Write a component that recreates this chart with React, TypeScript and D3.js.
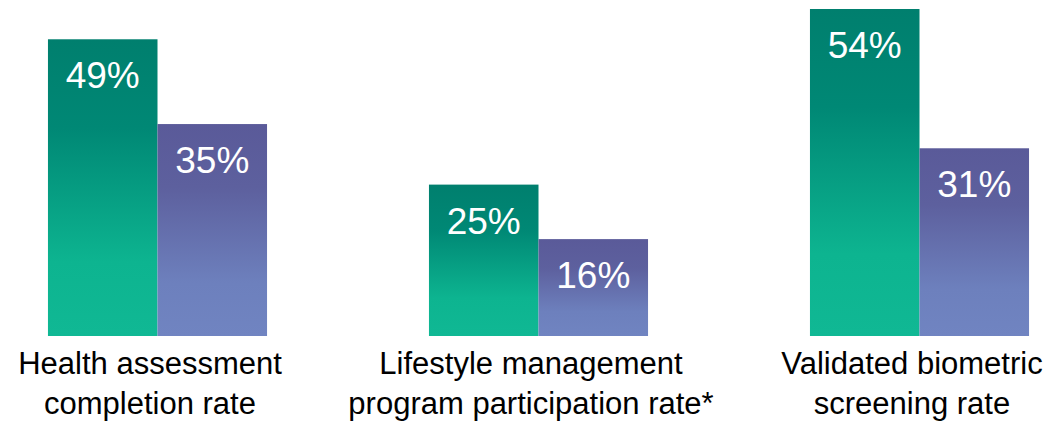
import React from "react";
import * as d3 from "d3";

const categories = ["Health assessment|completion rate", "Lifestyle management|program participation rate*", "Validated biometric|screening rate"];
const seriesA = [49, 25, 54];
const seriesB = [35, 16, 31];

const W = 1064;
const H = 421;

export default function App() {
  const x = d3.scaleBand<string>().domain(categories).range([-33, 1110]).paddingInner(0.425).paddingOuter(0.2125);
  const sub = d3.scaleBand<string>().domain(["a", "b"]).range([0, x.bandwidth()]);
  const y = d3.scaleLinear().domain([0, 54]).range([336, 9]);
  const fontFam = "'Liberation Sans', Arial, sans-serif";
  return (
    <svg width={W} height={H} style={{ position: "absolute", left: 0, top: 0 }} fontFamily={fontFam}>
      <defs>
        <linearGradient id="gA" x1="0" y1="0" x2="0" y2="1">
          <stop offset="0" stopColor="#007f6e" />
          <stop offset="0.3" stopColor="#008875" />
          <stop offset="0.75" stopColor="#0db490" />
          <stop offset="1" stopColor="#10b894" />
        </linearGradient>
        <linearGradient id="gB" x1="0" y1="0" x2="0" y2="1">
          <stop offset="0" stopColor="#5a5a99" />
          <stop offset="0.3" stopColor="#5d609e" />
          <stop offset="0.75" stopColor="#6d80bd" />
          <stop offset="1" stopColor="#7084c1" />
        </linearGradient>
      </defs>
      {categories.map((c, i) => {
        const gx = x(c)!;
        const bars = [
          { k: "a", v: seriesA[i], fill: "url(#gA)" },
          { k: "b", v: seriesB[i], fill: "url(#gB)" },
        ];
        const lines = c.split("|");
        return (
          <g key={c}>
            {bars.map((b) => {
              const bx = gx + sub(b.k)!;
              const bw = sub.bandwidth();
              return (
                <g key={b.k}>
                  <rect x={bx} y={y(b.v)} width={bw} height={y(0) - y(b.v)} fill={b.fill} />
                  <text x={bx + bw / 2} y={y(b.v) + 49} textAnchor="middle" fill="#fff" fontSize={37}>
                    {b.v}%
                  </text>
                </g>
              );
            })}
            {lines.map((l, j) => (
              <text key={j} x={gx + x.bandwidth() / 2 - 7.5} y={374 + j * 39.5} textAnchor="middle" fill="#000" fontSize={31}>
                {l}
              </text>
            ))}
          </g>
        );
      })}
    </svg>
  );
}
